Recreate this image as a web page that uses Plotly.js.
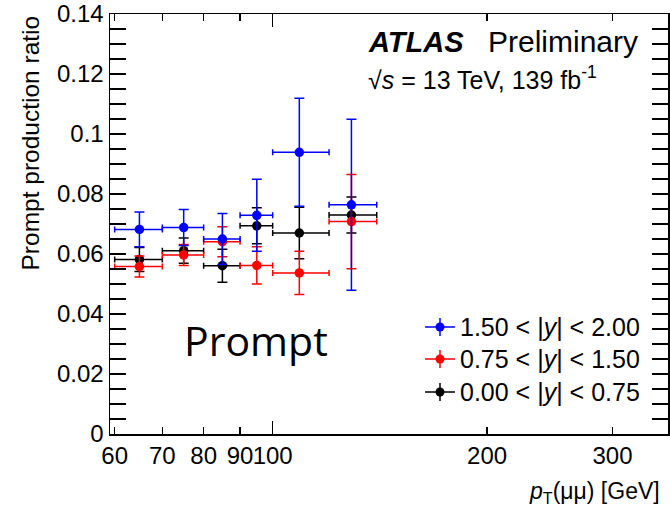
<!DOCTYPE html>
<html>
<head>
<meta charset="utf-8">
<script src="https://cdn.plot.ly/plotly-3.0.1.min.js"></script>
<style>
  html, body { margin: 0; padding: 0; background: #fff; }
  #chart { width: 670px; height: 511px; }
</style>
</head>
<body>
<div id="chart"></div>
<script>
// pT(mumu) bins [GeV]
const binLow    = [60, 70, 80, 90, 100, 120];
const binHigh   = [70, 80, 90, 100, 120, 140];
const binCenter = [65, 75, 85, 95, 109, 129];

// Prompt production ratio per rapidity slice
const ratioHighY  = [0.0682, 0.0688, 0.0650, 0.0729, 0.0939, 0.0764]; // 1.50 < |y| < 2.00
const errHighY    = [0.0058, 0.0060, 0.0085, 0.0120, 0.0180, 0.0285];
const ratioMidY   = [0.0558, 0.0597, 0.0641, 0.0562, 0.0537, 0.0708]; // 0.75 < |y| < 1.50
const errMidY     = [0.0035, 0.0035, 0.0050, 0.0062, 0.0072, 0.0157];
const ratioLowY   = [0.0582, 0.0611, 0.0561, 0.0694, 0.0670, 0.0730]; // 0.00 < |y| < 0.75
const errLowY     = [0.0040, 0.0042, 0.0055, 0.0060, 0.0086, 0.0060];

const seriesNames  = ['0.00 < |<i>y</i>| < 0.75', '0.75 < |<i>y</i>| < 1.50', '1.50 < |<i>y</i>| < 2.00'];
const seriesColors = ['#000000', '#ff0000', '#0000ff'];
const seriesValues = [ratioLowY, ratioMidY, ratioHighY];
const seriesErrors = [errLowY, errMidY, errHighY];

const xTickVals = [60, 70, 80, 90, 100, 200, 300];
const xTickText = ['60', '70', '80', '90', '100', '200', '300'];
const yTickVals = [0, 0.02, 0.04, 0.06, 0.08, 0.1, 0.12, 0.14];
const yTickText = ['0', '0.02', '0.04', '0.06', '0.08', '0.1', '0.12', '0.14'];

const FONT = 'Liberation Sans, Arial, Helvetica, sans-serif';

const errPlus  = binCenter.map((c, i) => binHigh[i] - c);
const errMinus = binCenter.map((c, i) => c - binLow[i]);

const traces = seriesValues.map((vals, k) => ({
  type: 'scatter',
  mode: 'markers',
  x: binCenter,
  y: vals,
  name: seriesNames[k],
  showlegend: false,
  marker: { color: seriesColors[k], size: 9.5, symbol: 'circle' },
  error_y: { type: 'data', array: seriesErrors[k], visible: true,
             color: seriesColors[k], thickness: 1.5, width: 5 },
  error_x: { type: 'data', symmetric: false, array: errPlus, arrayminus: errMinus,
             visible: true, color: seriesColors[k], thickness: 1.5, width: 3 }
}));

// Hand-built legend entries (error-bar cross + dot), top to bottom
const legendRowsPx = [327, 359, 392];
const plotL = 110, plotR = 668, plotT = 14, plotB = 434;
const pw = plotR - plotL, ph = plotB - plotT;
const px2x = p => (p - plotL) / pw;
const px2y = p => (plotB - p) / ph;

const shapes = [];
const annotations = [];
const legendOrder = [2, 1, 0];
legendOrder.forEach((k, row) => {
  const cy = legendRowsPx[row];
  const cx = 440;
  const col = seriesColors[k];
  shapes.push({ type: 'line', xref: 'paper', yref: 'paper',
    x0: px2x(cx - 15), x1: px2x(cx + 15), y0: px2y(cy), y1: px2y(cy),
    line: { color: col, width: 1.5 } });
  shapes.push({ type: 'line', xref: 'paper', yref: 'paper',
    x0: px2x(cx), x1: px2x(cx), y0: px2y(cy - 9), y1: px2y(cy + 9),
    line: { color: col, width: 1.5 } });
  shapes.push({ type: 'circle', xref: 'paper', yref: 'paper',
    x0: px2x(cx - 4.5), x1: px2x(cx + 4.5), y0: px2y(cy + 4.5), y1: px2y(cy - 4.5),
    fillcolor: col, line: { color: col, width: 0 } });
  annotations.push({ xref: 'paper', yref: 'paper', x: px2x(458), y: px2y(cy),
    xanchor: 'left', yanchor: 'middle', showarrow: false, text: seriesNames[k],
    font: { family: FONT, size: 25, color: '#000' } });
});

annotations.push(
  { xref: 'paper', yref: 'paper', x: px2x(366), y: px2y(42), xanchor: 'left', yanchor: 'middle',
    showarrow: false, text: '<b><i>ATLAS</i></b>', font: { family: FONT, size: 29, color: '#000' } },
  { xref: 'paper', yref: 'paper', x: px2x(486), y: px2y(42), xanchor: 'left', yanchor: 'middle',
    showarrow: false, text: 'Preliminary', font: { family: FONT, size: 30, color: '#000' } },
  { xref: 'paper', yref: 'paper', x: px2x(366), y: px2y(78), xanchor: 'left', yanchor: 'middle',
    showarrow: false, text: '\u221A<i>s</i> = 13 TeV, 139 fb<sup>-1</sup>',
    font: { family: FONT, size: 25, color: '#000' } },
  { xref: 'paper', yref: 'paper', x: px2x(256), y: px2y(340), xanchor: 'center', yanchor: 'middle',
    showarrow: false, text: 'Prompt', font: { family: 'Open Sans, sans-serif', size: 41, color: '#000' } },
  { xref: 'paper', yref: 'paper', x: px2x(662), y: px2y(492), xanchor: 'right', yanchor: 'middle',
    showarrow: false, text: '<i>p</i><sub>T</sub>(\u03BC\u03BC) [GeV]',
    font: { family: FONT, size: 23, color: '#000' } },
  { xref: 'paper', yref: 'paper', x: px2x(30), y: 1, xanchor: 'center', yanchor: 'top',
    showarrow: false, textangle: -90, text: 'Prompt production ratio',
    font: { family: FONT, size: 24.5, color: '#000' } }
);

const xRange = [Math.log10(59.1), Math.log10(359)];

const layout = {
  width: 670, height: 511,
  margin: { l: plotL, r: 670 - plotR, t: plotT, b: 511 - plotB, pad: 0 },
  paper_bgcolor: '#fff', plot_bgcolor: '#fff',
  showlegend: false,
  font: { family: FONT, size: 24, color: '#000' },
  xaxis: {
    type: 'log', range: xRange, tickmode: 'array', tickvals: xTickVals, ticktext: xTickText,
    tickangle: 0, ticks: 'inside', ticklen: 7, tickwidth: 1.2, tickcolor: '#000',
    showline: true, linecolor: '#000', linewidth: 1.5, mirror: 'ticks',
    showgrid: false, zeroline: false, tickfont: { family: FONT, size: 24 }
  },
  xaxis2: {
    type: 'log', range: xRange, overlaying: 'x', anchor: 'y', side: 'bottom',
    tickmode: 'array', tickvals: [100], showticklabels: false,
    ticks: 'inside', ticklen: 13, tickwidth: 1.2, tickcolor: '#000',
    showline: false, mirror: 'ticks', showgrid: false, zeroline: false
  },
  yaxis: {
    range: [0, 0.14], tickmode: 'array', tickvals: yTickVals, ticktext: yTickText,
    ticks: 'inside', ticklen: 16, tickwidth: 1.2, tickcolor: '#000',
    minor: { dtick: 0.005, ticks: 'inside', ticklen: 8, tickcolor: '#000', tickwidth: 1.2 },
    showline: true, linecolor: '#000', linewidth: 1.5, mirror: 'allticks',
    showgrid: false, zeroline: false, tickfont: { family: FONT, size: 24 }
  },
  shapes: shapes,
  annotations: annotations
};

// invisible trace to bind the tick-only overlay axis
traces.unshift({ type: 'scatter', x: [binLow[0]], y: [0], xaxis: 'x2', yaxis: 'y',
  mode: 'markers', marker: { opacity: 0 }, hoverinfo: 'skip', showlegend: false });

Plotly.newPlot('chart', traces, layout, { staticPlot: true, displayModeBar: false });
</script>
</body>
</html>
